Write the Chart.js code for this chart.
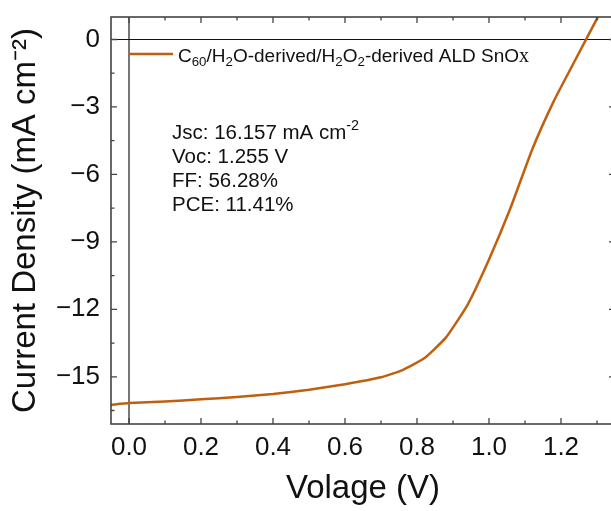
<!DOCTYPE html>
<html lang="en">
<head>
    <meta charset="UTF-8">
    <title>J-V curve</title>
    <style>
        html, body { margin: 0; padding: 0; background: #fff; overflow: hidden; }
        #wrap { width: 620px; height: 511px; }
    </style>
</head>
<body>
    <div id="wrap"><canvas id="jv"></canvas></div>

    <script src="https://cdn.jsdelivr.net/npm/chart.js"></script>
    <script>
        // voltage (V) and current density (mA cm-2)
        const voltage = [-0.05, 0, 0.1, 0.2, 0.3, 0.4, 0.5, 0.6, 0.7, 0.76, 0.82, 0.88, 0.94, 1.0, 1.06, 1.12, 1.18, 1.24, 1.30, 1.36];
        const current = [-16.25, -16.17, -16.1, -16.0, -15.9, -15.77, -15.58, -15.33, -15.02, -14.7, -14.18, -13.26, -11.81, -9.78, -7.48, -4.89, -2.74, -0.9, 0.93, 2.8];

        const xMajor = [0.0, 0.2, 0.4, 0.6, 0.8, 1.0, 1.2];
        const xMinor = [-0.1, 0.1, 0.3, 0.5, 0.7, 0.9, 1.1, 1.3];
        const yMajor = [-15, -12, -9, -6, -3, 0];
        const yMinor = [-16.5, -13.5, -10.5, -7.5, -4.5, -1.5];

        const seriesName = [['C', 0], ['60', 1], ['/H', 0], ['2', 1], ['O-derived/H', 0], ['2', 1], ['O', 0], ['2', 1], ['-derived ALD SnO', 0], ['x', 2]];
        const statLines = [
            [['Jsc: 16.157 mA cm', 0], ['-2', -1]],
            [['Voc: 1.255 V', 0]],
            [['FF: 56.28%', 0]],
            [['PCE: 11.41%', 0]]
        ];

        const font = '"Liberation Sans", Arial, sans-serif';
        const curveColor = '#C0600E';

        // text pieces: 0 normal, 1 subscript, -1 superscript, 2 serif
        function richText(ctx, parts, x, y, size) {
            ctx.textBaseline = 'alphabetic';
            ctx.textAlign = 'left';
            for (const [t, kind] of parts) {
                let s = size, dy = 0, f = font;
                if (kind === 1) { s = size * 0.7; dy = size * 0.25; }
                if (kind === -1) { s = size * 0.7; dy = -size * 0.42; }
                if (kind === 2) { f = '"Liberation Serif", serif'; s = size * 1.05; }
                ctx.font = s + 'px ' + f;
                ctx.fillText(t, x, y + dy);
                x += ctx.measureText(t).width;
            }
        }

        const framePlugin = {
            id: 'frame',
            beforeDatasetsDraw(chart) {
                const { ctx, chartArea: a, scales } = chart;
                const x0 = scales.x.getPixelForValue(0);
                const y0 = scales.y.getPixelForValue(0);
                ctx.save();
                ctx.strokeStyle = '#777';
                ctx.lineWidth = 2;
                ctx.beginPath(); ctx.moveTo(x0, a.top); ctx.lineTo(x0, a.bottom); ctx.stroke();
                ctx.strokeStyle = '#111';
                ctx.lineWidth = 1.2;
                ctx.beginPath(); ctx.moveTo(a.left, y0); ctx.lineTo(a.right, y0); ctx.stroke();
                ctx.restore();
            },
            afterDraw(chart) {
                const { ctx, chartArea: a, scales } = chart;
                ctx.save();
                ctx.strokeStyle = '#444';
                ctx.lineWidth = 1.6;
                ctx.strokeRect(a.left, a.top, a.right - a.left, a.bottom - a.top);
                ctx.lineWidth = 1.3;
                ctx.beginPath();
                const xt = (vals, len) => vals.forEach(v => {
                    const px = scales.x.getPixelForValue(v);
                    if (px < a.left || px > a.right) return;
                    ctx.moveTo(px, a.bottom); ctx.lineTo(px, a.bottom - len);
                    ctx.moveTo(px, a.top); ctx.lineTo(px, a.top + len);
                });
                const yt = (vals, len) => vals.forEach(v => {
                    const py = scales.y.getPixelForValue(v);
                    ctx.moveTo(a.left, py); ctx.lineTo(a.left + len, py);
                    ctx.moveTo(a.right, py); ctx.lineTo(a.right - len, py);
                });
                xt(xMajor, 6); xt(xMinor, 3.5);
                yt(yMajor, 6); yt(yMinor, 3.5);
                ctx.stroke();

                // legend
                const lx = scales.x.getPixelForValue(0);
                ctx.strokeStyle = curveColor;
                ctx.lineWidth = 2.5;
                ctx.beginPath(); ctx.moveTo(lx, 54); ctx.lineTo(lx + 44, 54); ctx.stroke();
                ctx.fillStyle = '#111';
                richText(ctx, seriesName, lx + 49, 61.5, 19);

                // device parameters
                statLines.forEach((ln, i) => richText(ctx, ln, 172, 139 + i * 24, 20.5));
                ctx.restore();
            }
        };

        const minus = v => String(v).replace('-', '\u2212');

        new Chart(document.getElementById('jv'), {
            type: 'line',
            data: {
                datasets: [{
                    label: 'C60/H2O-derived/H2O2-derived ALD SnOx',
                    data: voltage.map((v, i) => ({ x: v, y: current[i] })),
                    borderColor: curveColor,
                    borderWidth: 2.5,
                    pointRadius: 0,
                    tension: 0.15,
                    fill: false
                }]
            },
            options: {
                responsive: true,
                maintainAspectRatio: false,
                animation: false,
                layout: { padding: { top: 17, right: 5, left: 0, bottom: 0 } },
                plugins: { legend: { display: false }, tooltip: { enabled: false } },
                scales: {
                    x: {
                        type: 'linear',
                        min: -0.05,
                        max: 1.35,
                        afterBuildTicks: s => { s.ticks = xMajor.map(v => ({ value: v })); },
                        afterFit: s => { s.height = 87; s.paddingLeft = 0; s.paddingRight = 0; },
                        grid: { display: false },
                        border: { display: false },
                        ticks: {
                            color: '#111',
                            padding: 0,
                            font: { family: font, size: 26 },
                            callback: v => v.toFixed(1)
                        },
                        title: {
                            display: true,
                            text: 'Volage (V)',
                            color: '#111',
                            padding: { top: 4, bottom: 2 },
                            font: { family: font, size: 33 }
                        }
                    },
                    y: {
                        min: -17.1,
                        max: 1,
                        afterBuildTicks: s => { s.ticks = yMajor.map(v => ({ value: v })); },
                        afterFit: s => { s.width = 111; s.paddingTop = 0; s.paddingBottom = 0; },
                        grid: { display: false },
                        border: { display: false },
                        ticks: {
                            color: '#111',
                            padding: 3,
                            font: { family: font, size: 26 },
                            callback: v => minus(v)
                        },
                        title: {
                            display: true,
                            text: 'Current Density (mA cm\u207B\u00B2)',
                            color: '#111',
                            padding: { top: 6, bottom: 2 },
                            font: { family: font, size: 33 }
                        }
                    }
                }
            },
            plugins: [framePlugin]
        });
    </script>
</body>
</html>
